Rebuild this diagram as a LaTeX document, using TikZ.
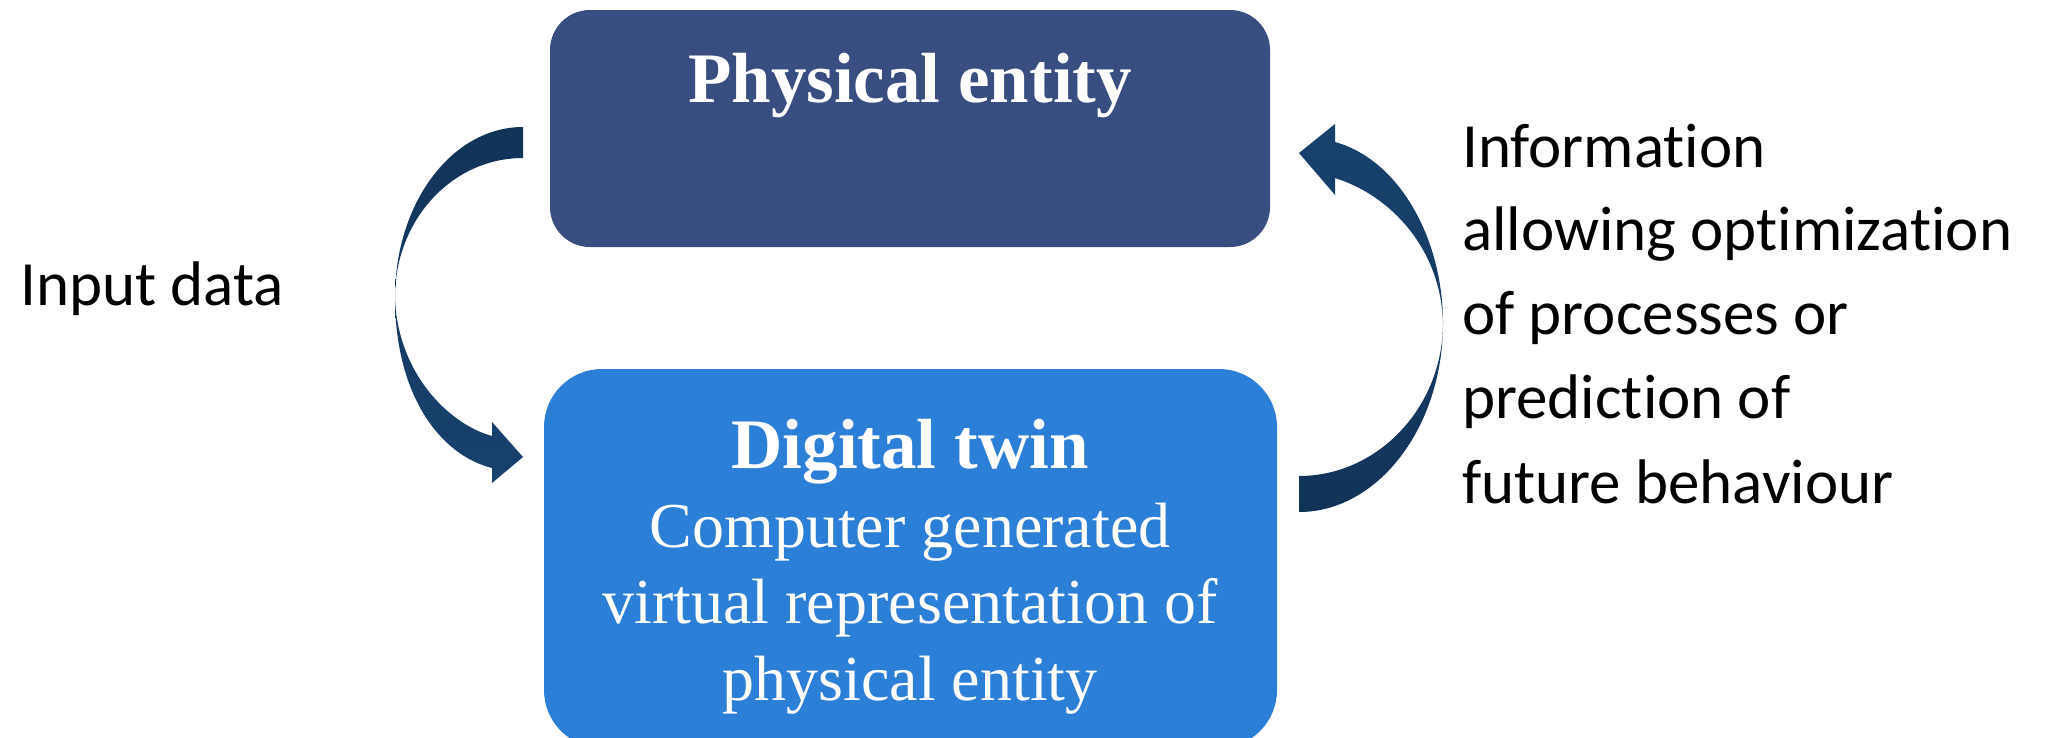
\documentclass[tikz,border=0pt]{standalone}
\usepackage{fontspec}
\setmainfont{Liberation Serif}
\newfontfamily\calfont[Ligatures={NoCommon,NoRare,NoContextual}]{Carlito}
\definecolor{physblue}{RGB}{56,77,128}
\definecolor{twinblue}{RGB}{44,127,215}
\definecolor{arrdark}{RGB}{18,51,88}
\definecolor{arrlight}{RGB}{23,66,110}
\newcommand\tinolig{t\kern0pt i}
\begin{document}
\begin{tikzpicture}[x=1pt,y=-1pt,
  boxstyle/.style={rounded corners=#1, inner sep=0pt, draw=none},
  titlefont/.style={font=\fontsize{71}{76}\selectfont\bfseries, text=white, inner sep=0pt, anchor=base},
  subfont/.style={font=\fontsize{64}{76}\selectfont, text=white, inner sep=0pt, anchor=base},
  labelfont/.style={font=\calfont\fontsize{63}{84}\selectfont, text=black, inner sep=0pt, anchor=base west}]
\useasboundingbox (0,0) rectangle (2047,737);
\clip (0,0) rectangle (2047,737);
% boxes
\node[boxstyle=40, fill=physblue, minimum width=720pt, minimum height=237pt] (phys) at (910,128.5) {};
\node[boxstyle=58, fill=twinblue, minimum width=733pt, minimum height=379pt] (twin) at (910.5,558.5) {};
% box texts
\node[titlefont] (physT) at (910,102) {Physical entity};
\node[titlefont] (twinT) at (910,468) {Digital twin};
\node[subfont] (twin1) at (910,547) {Computer generated};
\node[subfont] (twin2) at (910,623) {virtual representation of};
\node[subfont] (twin3) at (910,700) {physical entity};
% labels
\node[labelfont] (inp) at (20,305) {Input data};
\node[labelfont] (inf1) at (1462,167) {Informa\tinolig on};
\node[labelfont] (inf2) at (1462,250) {allowing op\tinolig miza\tinolig on};
\node[labelfont] (inf3) at (1462,334) {of processes or};
\node[labelfont] (inf4) at (1462,418) {predic\tinolig on of};
\node[labelfont] (inf5) at (1462,503) {future behaviour};
% left curved arrow (physical -> twin)
\coordinate (la) at (523,127);
\coordinate (lb) at (523,158);
\coordinate (lm) at (395,297);
\shade[top color=arrdark, bottom color=arrlight]
  (la) .. controls (452,127) and (395,203) .. (lm)
  .. controls (395,395) and (440,455) .. (492,468)
  -- (492,483) -- (523,457) -- (492,422) -- (492,436)
  .. controls (448,424) and (397,372) .. (lm)
  .. controls (395,220) and (452,158) .. (lb) -- cycle;
% right curved arrow (twin -> physical)
\coordinate (ra) at (1299,512);
\coordinate (rb) at (1299,476);
\coordinate (rm) at (1443,323);
\shade[top color=arrlight, bottom color=arrdark]
  (ra) .. controls (1378,512) and (1443,427) .. (rm)
  .. controls (1443,240) and (1400,160) .. (1335,142)
  -- (1335,124) -- (1299,153) -- (1335,195) -- (1335,178)
  .. controls (1392,196) and (1441,250) .. (rm)
  .. controls (1443,407) and (1378,476) .. (rb) -- cycle;
\end{tikzpicture}
\end{document}
